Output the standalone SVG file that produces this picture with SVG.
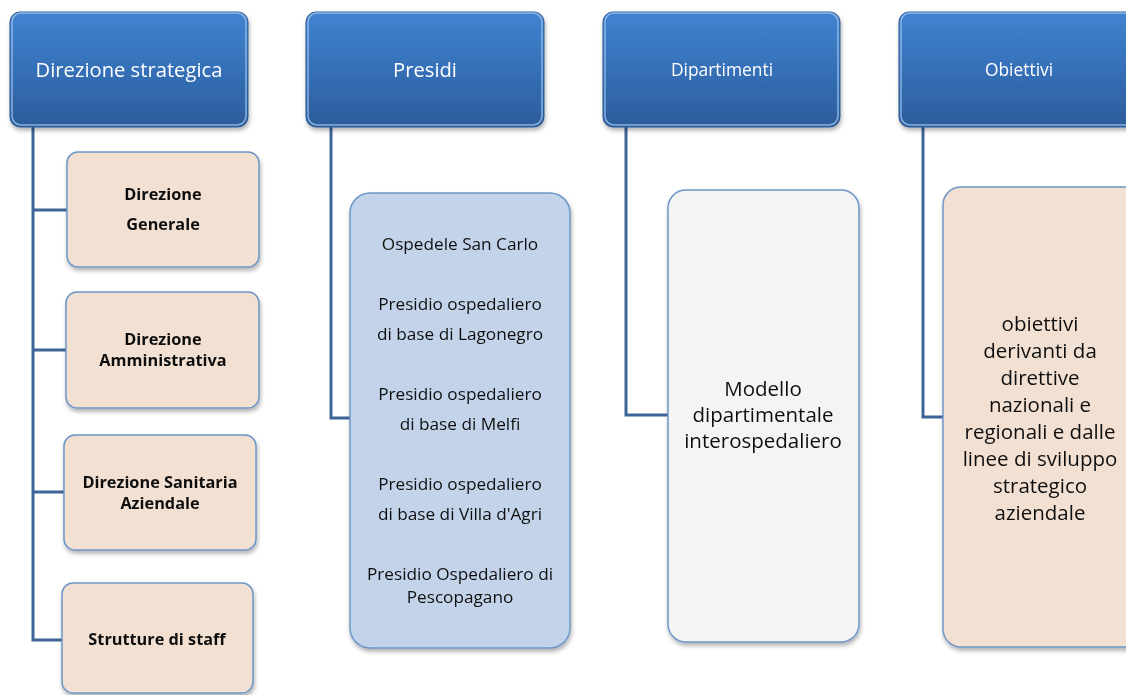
<svg xmlns="http://www.w3.org/2000/svg" width="1126" height="695" viewBox="0 0 1126 695">
<style>
.hd{fill:url(#hg);stroke:#2b5a96;stroke-width:1}
.hl{fill:none;stroke:#9cc4ee;stroke-width:1.5;opacity:0.8}
.ht{font-family:"Open Sans","Noto Sans",sans-serif;fill:#ffffff;text-anchor:middle}
.ct{font-family:"Open Sans","Noto Sans",sans-serif;fill:#111111;text-anchor:middle}
.b{font-weight:bold;font-size:16.3px}
.p{font-size:17.2px}
.peach{fill:#f2e1d3;stroke:#6e96c6;stroke-width:1.5}
.blue{fill:#c3d4ea;stroke:#6e96c6;stroke-width:1.5}
.grey{fill:#f4f4f4;stroke:#6e96c6;stroke-width:1.5}
.cn{fill:none;stroke:#3e6597;stroke-width:3}
</style>
<defs>
<linearGradient id="hg" x1="0" y1="0" x2="0" y2="1">
<stop offset="0" stop-color="#4283d0"/>
<stop offset="0.5" stop-color="#3570b8"/>
<stop offset="1" stop-color="#2c5c9a"/>
</linearGradient>
<filter id="sh" x="-10%" y="-10%" width="130%" height="130%">
<feDropShadow dx="1" dy="3" stdDeviation="2" flood-color="#000" flood-opacity="0.3"/>
</filter>
</defs>
<rect width="1126" height="695" fill="#ffffff"/>
<g id="connectors">
<path class="cn" d="M33 126 V640 H62 M33 210 H67 M33 350 H66 M33 492 H64"/>
<path class="cn" d="M331 126 V418 H350"/>
<path class="cn" d="M626 126 V415 H668"/>
<path class="cn" d="M923 126 V417 H943"/>
</g>
<g id="h1" filter="url(#sh)">
<rect class="hd" x="10" y="12" width="238" height="115" rx="10"/>
<rect class="hl" x="12" y="13" width="234" height="112" rx="9"/>
<text class="ht" x="129" y="77" font-size="20.2">Direzione strategica</text>
</g>
<g id="h2" filter="url(#sh)">
<rect class="hd" x="306" y="12" width="238" height="115" rx="10"/>
<rect class="hl" x="308" y="13" width="234" height="112" rx="9"/>
<text class="ht" x="425" y="77" font-size="20.2">Presidi</text>
</g>
<g id="h3" filter="url(#sh)">
<rect class="hd" x="603" y="12" width="237" height="115" rx="10"/>
<rect class="hl" x="605" y="13" width="233" height="112" rx="9"/>
<text class="ht" x="722" y="76" font-size="17.4">Dipartimenti</text>
</g>
<g id="h4" filter="url(#sh)">
<rect class="hd" x="899" y="12" width="240" height="115" rx="10"/>
<rect class="hl" x="901" y="13" width="236" height="112" rx="9"/>
<text class="ht" x="1019" y="76" font-size="17.4">Obiettivi</text>
</g>
<g id="c1" filter="url(#sh)">
<rect class="peach" x="67" y="152" width="192" height="115" rx="11"/>
<text class="ct b" x="163" y="200">Direzione</text>
<text class="ct b" x="163" y="230">Generale</text>
</g>
<g id="c2" filter="url(#sh)">
<rect class="peach" x="66" y="292" width="193" height="116" rx="11"/>
<text class="ct b" x="163" y="345">Direzione</text>
<text class="ct b" x="163" y="366">Amministrativa</text>
</g>
<g id="c3" filter="url(#sh)">
<rect class="peach" x="64" y="435" width="192" height="115" rx="11"/>
<text class="ct b" x="160" y="488">Direzione Sanitaria</text>
<text class="ct b" x="160" y="509">Aziendale</text>
</g>
<g id="c4" filter="url(#sh)">
<rect class="peach" x="62" y="583" width="191" height="110" rx="11"/>
<text class="ct b" x="157" y="645">Strutture di staff</text>
</g>
<g id="c5" filter="url(#sh)">
<rect class="blue" x="350" y="193" width="220" height="455" rx="20"/>
<text class="ct p" x="460" y="250">Ospedele San Carlo</text>
<text class="ct p" x="460" y="310">Presidio ospedaliero</text>
<text class="ct p" x="460" y="340">di base di Lagonegro</text>
<text class="ct p" x="460" y="400">Presidio ospedaliero</text>
<text class="ct p" x="460" y="430">di base di Melfi</text>
<text class="ct p" x="460" y="490">Presidio ospedaliero</text>
<text class="ct p" x="460" y="520">di base di Villa d'Agri</text>
<text class="ct p" x="460" y="580">Presidio Ospedaliero di</text>
<text class="ct p" x="460" y="603">Pescopagano</text>
</g>
<g id="c6" filter="url(#sh)">
<rect class="grey" x="668" y="190" width="191" height="452" rx="18"/>
<text class="ct" x="763" y="396" font-size="20.5">Modello</text>
<text class="ct" x="763" y="422" font-size="20.5">dipartimentale</text>
<text class="ct" x="763" y="448" font-size="20.5">interospedaliero</text>
</g>
<g id="c7" filter="url(#sh)">
<rect class="peach" x="943" y="187" width="200" height="460" rx="18"/>
<text class="ct" x="1040" y="331" font-size="20.5">obiettivi</text>
<text class="ct" x="1040" y="358" font-size="20.5">derivanti da</text>
<text class="ct" x="1040" y="385" font-size="20.5">direttive</text>
<text class="ct" x="1040" y="412" font-size="20.5">nazionali e</text>
<text class="ct" x="1040" y="439" font-size="20.5">regionali e dalle</text>
<text class="ct" x="1040" y="466" font-size="20.5">linee di sviluppo</text>
<text class="ct" x="1040" y="493" font-size="20.5">strategico</text>
<text class="ct" x="1040" y="520" font-size="20.5">aziendale</text>
</g>
</svg>
